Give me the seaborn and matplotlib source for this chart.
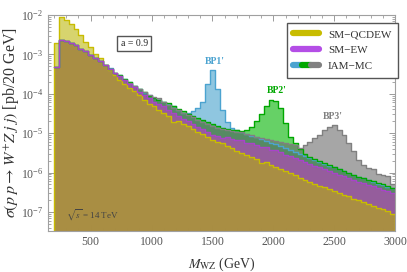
import seaborn as sns
import matplotlib.pyplot as plt
from matplotlib.colors import to_rgba
from matplotlib.lines import Line2D
from matplotlib.legend_handler import HandlerTuple
from matplotlib.ticker import MultipleLocator

# ---------------- data (pb per 20 GeV, 40 GeV steps) ----------------
bin_edges = list(range(200, 3001, 40))
bin_centers = [e + 20 for e in bin_edges[:-1]]

sm_qcdew = [1.91e-3, 8.71e-3, 7.59e-3, 6.03e-3, 4.37e-3, 3.02e-3, 2.09e-3, 1.58e-3, 1.05e-3, 7.94e-4,
            5.50e-4, 3.98e-4, 3.02e-4, 2.19e-4, 1.82e-4, 1.38e-4, 1.15e-4, 9.55e-5, 6.92e-5, 5.50e-5,
            4.79e-5, 3.98e-5, 3.31e-5, 2.75e-5, 1.91e-5, 2.00e-5, 1.74e-5, 1.51e-5, 1.26e-5, 1.10e-5,
            9.55e-6, 7.94e-6, 6.61e-6, 5.89e-6, 5.50e-6, 4.79e-6, 4.17e-6, 3.55e-6, 3.16e-6, 2.82e-6,
            2.51e-6, 2.19e-6, 1.74e-6, 1.82e-6, 1.58e-6, 1.38e-6, 1.26e-6, 1.10e-6, 9.55e-7, 8.71e-7,
            7.24e-7, 6.31e-7, 5.75e-7, 5.25e-7, 4.68e-7, 4.37e-7, 3.80e-7, 3.39e-7, 3.02e-7, 2.75e-7,
            2.51e-7, 2.19e-7, 2.00e-7, 1.74e-7, 1.58e-7, 1.38e-7, 1.26e-7, 1.20e-7, 1.05e-7, 9.12e-8]

sm_ew = [4.68e-4, 2.34e-3, 2.19e-3, 1.95e-3, 1.74e-3, 1.38e-3, 1.20e-3, 9.77e-4, 8.13e-4, 6.61e-4,
         5.37e-4, 4.27e-4, 3.39e-4, 2.75e-4, 2.19e-4, 1.78e-4, 1.48e-4, 1.12e-4, 9.33e-5, 7.59e-5,
         6.31e-5, 5.50e-5, 4.79e-5, 3.89e-5, 3.31e-5, 2.75e-5, 2.29e-5, 2.00e-5, 1.74e-5, 1.45e-5,
         1.26e-5, 1.07e-5, 8.91e-6, 8.71e-6, 7.59e-6, 7.76e-6, 6.92e-6, 6.76e-6, 6.61e-6, 5.75e-6,
         5.50e-6, 5.01e-6, 4.57e-6, 4.37e-6, 3.80e-6, 3.63e-6, 3.24e-6, 2.82e-6, 2.57e-6, 2.29e-6,
         2.09e-6, 1.86e-6, 1.66e-6, 1.51e-6, 1.35e-6, 1.20e-6, 1.07e-6, 9.77e-7, 8.91e-7, 8.32e-7,
         7.24e-7, 6.61e-7, 5.89e-7, 5.50e-7, 4.90e-7, 4.47e-7, 4.17e-7, 3.63e-7, 3.39e-7, 3.02e-7]

iam_bp1 = [4.68e-4, 2.34e-3, 2.19e-3, 1.95e-3, 1.74e-3, 1.38e-3, 1.20e-3, 9.77e-4, 8.13e-4, 6.61e-4,
           5.37e-4, 4.40e-4, 3.39e-4, 2.95e-4, 2.40e-4, 1.95e-4, 1.58e-4, 1.32e-4, 1.07e-4, 9.12e-5,
           7.76e-5, 6.92e-5, 6.17e-5, 5.50e-5, 4.79e-5, 3.80e-5, 3.31e-5, 3.16e-5, 3.55e-5, 4.37e-5,
           6.31e-5, 1.78e-4, 3.98e-4, 1.32e-4, 3.80e-5, 1.91e-5, 1.38e-5, 1.20e-5, 1.05e-5, 9.55e-6,
           8.71e-6, 7.94e-6, 7.08e-6, 6.31e-6, 5.62e-6, 5.25e-6, 4.68e-6, 4.17e-6, 3.80e-6, 3.31e-6,
           2.95e-6, 2.63e-6, 2.34e-6, 2.09e-6, 1.86e-6, 1.66e-6, 1.48e-6, 1.35e-6, 1.20e-6, 1.10e-6,
           9.55e-7, 8.71e-7, 7.76e-7, 7.08e-7, 6.31e-7, 5.75e-7, 5.25e-7, 4.79e-7, 4.37e-7, 3.98e-7]

iam_bp2 = [4.68e-4, 2.34e-3, 2.19e-3, 1.95e-3, 1.74e-3, 1.38e-3, 1.20e-3, 9.77e-4, 8.13e-4, 6.61e-4,
           5.37e-4, 4.27e-4, 3.39e-4, 3.02e-4, 2.40e-4, 2.00e-4, 1.58e-4, 1.29e-4, 1.10e-4, 8.91e-5,
           7.94e-5, 6.92e-5, 6.03e-5, 5.75e-5, 5.01e-5, 4.17e-5, 3.55e-5, 3.02e-5, 2.69e-5, 2.40e-5,
           2.19e-5, 1.91e-5, 1.66e-5, 1.51e-5, 1.38e-5, 1.26e-5, 1.23e-5, 1.17e-5, 1.12e-5, 1.20e-5,
           1.41e-5, 2.09e-5, 3.02e-5, 4.79e-5, 7.08e-5, 6.61e-5, 4.47e-5, 1.78e-5, 7.94e-6, 5.50e-6,
           3.98e-6, 3.02e-6, 2.51e-6, 2.24e-6, 1.95e-6, 1.74e-6, 1.55e-6, 1.38e-6, 1.23e-6, 1.12e-6,
           9.77e-7, 8.91e-7, 7.94e-7, 7.24e-7, 6.61e-7, 6.03e-7, 5.50e-7, 5.01e-7, 4.68e-7, 4.17e-7]

iam_bp3 = [4.68e-4, 2.34e-3, 2.19e-3, 1.95e-3, 1.74e-3, 1.38e-3, 1.20e-3, 9.77e-4, 8.13e-4, 6.61e-4,
           5.37e-4, 4.27e-4, 3.39e-4, 2.88e-4, 2.29e-4, 1.91e-4, 1.55e-4, 1.29e-4, 1.12e-4, 9.33e-5,
           8.51e-5, 7.59e-5, 6.03e-5, 5.13e-5, 4.47e-5, 3.80e-5, 3.24e-5, 2.82e-5, 2.51e-5, 2.19e-5,
           1.95e-5, 1.70e-5, 1.51e-5, 1.38e-5, 1.29e-5, 1.20e-5, 1.12e-5, 1.07e-5, 1.05e-5, 9.55e-6,
           8.91e-6, 8.13e-6, 7.59e-6, 7.08e-6, 6.61e-6, 6.17e-6, 6.03e-6, 5.75e-6, 5.37e-6, 5.01e-6,
           4.17e-6, 5.01e-6, 6.03e-6, 7.59e-6, 9.12e-6, 1.17e-5, 1.41e-5, 1.62e-5, 1.20e-5, 8.91e-6,
           5.62e-6, 3.55e-6, 2.09e-6, 1.58e-6, 1.32e-6, 1.20e-6, 9.12e-7, 8.91e-7, 8.32e-7, 5.01e-7]

# ---------------- style ----------------
sns.set_style("ticks")
plt.rcParams['font.family'] = ['Liberation Serif', 'DejaVu Serif']
plt.rcParams['mathtext.fontset'] = 'stix'

fig = plt.figure(figsize=(4.07, 2.72), dpi=100)
ax = fig.add_axes([0.118, 0.151, 0.853, 0.794])

# (values, line colour, fill colour, fill alpha) -- drawn bottom to top
layers = [
    (iam_bp1, '#4ba3d0', '#45a0cc', 0.6),
    (iam_bp2, '#00a800', '#00b300', 0.6),
    (iam_bp3, '#808080', '#6b6b6b', 0.6),
    (sm_ew, '#a845c8', '#b04bb5', 0.7),
    (sm_qcdew, '#c8bc00', '#b9b400', 0.57),
]

# fills first
for vals, lc, fc, a in layers:
    sns.histplot(x=bin_centers, weights=vals, bins=bin_edges, element='step', fill=True,
                 facecolor=to_rgba(fc, a), edgecolor='none', linewidth=0, ax=ax)
# then the outlines on top
for vals, lc, fc, a in layers[:-1]:
    sns.histplot(x=bin_centers, weights=vals, bins=bin_edges, element='step', fill=False,
                 color=lc, linewidth=1.0, ax=ax)
# SM-QCDEW outline closed down to the axis (left edge visible)
sns.histplot(x=bin_centers, weights=sm_qcdew, bins=bin_edges, element='step', fill=True,
             color='#c8bc00', facecolor=(0, 0, 0, 0), edgecolor='#c8bc00', linewidth=1.0, ax=ax)

ax.set_yscale('log')
ax.set_xlim(150, 3000)
ax.set_ylim(3.3e-8, 1e-2)
ax.xaxis.set_major_locator(MultipleLocator(500))
ax.xaxis.set_minor_locator(MultipleLocator(100))

ax.tick_params(which='both', direction='in', top=True, right=True, color='#9a9a9a',
               labelcolor='#555555', labelsize=8.5)
ax.tick_params(which='major', length=4, width=0.7)
ax.tick_params(which='minor', length=2, width=0.6)
for sp in ax.spines.values():
    sp.set_color('#a0a0a0')
    sp.set_linewidth(0.8)
    sp.set_zorder(5)

ax.set_xlabel(r'$M_{\rm WZ}$ (GeV)', fontsize=10, color='#333333', labelpad=6)
ax.set_ylabel(r'$\sigma(p\;p\rightarrow W^{+}Z\;j\;j)$ [pb/20 GeV]', fontsize=11.5,
              color='#333333', labelpad=0)

# annotations
ax.text(1521, 6.5e-4, "BP1'", color='#4ba3d0', fontsize=7, fontweight='bold', ha='center', va='center')
ax.text(2028, 1.2e-4, "BP2'", color='#00a800', fontsize=7, fontweight='bold', ha='center', va='center')
ax.text(2490, 2.6e-5, "BP3'", color='#808080', fontsize=7, fontweight='bold', ha='center', va='center')
ax.text(0.248, 0.868, 'a = 0.9', transform=ax.transAxes, fontsize=7, ha='center', va='center',
        color='#222222',
        bbox=dict(boxstyle='square,pad=0.35', facecolor='white', edgecolor='#555555', linewidth=1.0))
ax.text(0.127, 0.074, r'$\sqrt{s}$ = 14 TeV', transform=ax.transAxes, fontsize=6.5,
        ha='center', va='center', color='#444444')

# legend
h_qcd = Line2D([], [], color='#c8bc00', lw=4.5)
h_ew = Line2D([], [], color='#b44ee6', lw=4.5)
h_iam = (Line2D([], [], color='#4ba3d0', lw=4.5),
         Line2D([], [], color='#00a800', lw=4.5),
         Line2D([], [], color='#808080', lw=4.5))
leg = ax.legend([h_qcd, h_ew, h_iam], ['SM\u2212QCDEW', 'SM\u2212EW', 'IAM\u2212MC'],
                handler_map={tuple: HandlerTuple(ndivide=None, pad=0)},
                loc='upper right', bbox_to_anchor=(1.008, 0.964), borderaxespad=0,
                fancybox=False, edgecolor='#555555', framealpha=1, fontsize=8,
                handlelength=2.3, labelspacing=0.55, borderpad=0.6)
leg.get_frame().set_linewidth(1.0)
leg.set_zorder(6)
for t in leg.get_texts():
    t.set_color('#333333')

fig.savefig('out.png', dpi=100)
